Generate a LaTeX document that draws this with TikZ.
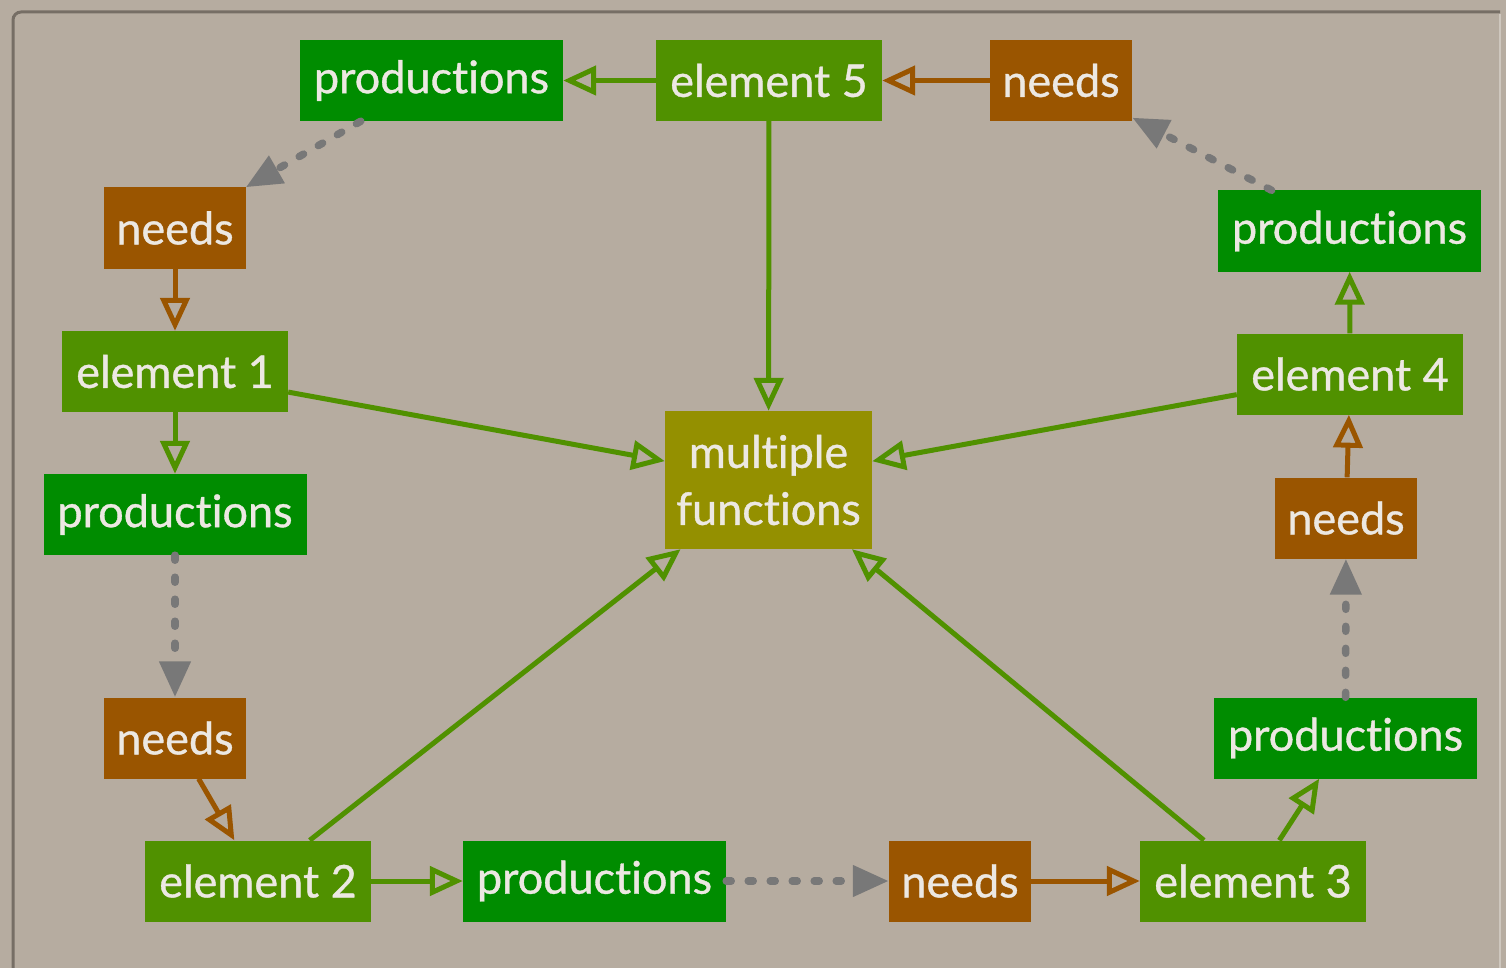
\documentclass[tikz,border=0pt]{standalone}
\usepackage{fontspec}
\setmainfont{Lato}
\newfontfamily\medfont{Lato}[FakeBold=0.8, Ligatures=NoCommon]
\usetikzlibrary{arrows.meta}
\definecolor{bgc}{RGB}{182,172,160}
\definecolor{framec}{RGB}{118,110,101}
\definecolor{framelt}{RGB}{206,199,190}
\definecolor{prodc}{RGB}{0,140,0}
\definecolor{elemc}{RGB}{80,145,0}
\definecolor{needc}{RGB}{154,85,0}
\definecolor{mfc}{RGB}{148,144,0}
\definecolor{txtc}{RGB}{236,232,226}
\definecolor{grayc}{RGB}{120,120,120}
\tikzset{
  box/.style={inner sep=0pt, text=txtc, font=\medfont\fontsize{45}{57}\selectfont, minimum height=81pt},
  prodbox/.style={box, fill=prodc, minimum width=263pt},
  elembox/.style={box, fill=elemc, minimum width=226pt},
  needbox/.style={box, fill=needc, minimum width=142pt},
  mfbox/.style={box, fill=mfc, minimum width=207pt, minimum height=138pt, align=center},
  greenarr/.style={draw=elemc, line width=5pt, -{Triangle[open, length=33pt, width=29pt]}},
  brownarr/.style={draw=needc, line width=5pt, -{Triangle[open, length=33pt, width=29pt]}},
  grayarr/.style={draw=grayc, line width=7.5pt, line cap=round, dash pattern=on 5pt off 17pt, -{Triangle[length=36pt, width=30pt]}},
}
\begin{document}
\begin{tikzpicture}[x=1pt, y=-1pt]
\useasboundingbox (0,0) rectangle (1506,968);
\fill[bgc] (0,0) rectangle (1506,968);
\draw[framelt, line width=2pt] (1500,14) -- (1500,968);
\draw[framec, line width=3pt, rounded corners=8pt] (13,975) -- (13,12) -- (1500,12);

% nodes
\node[prodbox] (p5) at (431.5,80.5) {productions};
\node[elembox] (e5) at (769,80.5) {element 5};
\node[needbox] (n5) at (1061,80.5) {needs};
\node[needbox] (n1) at (175,228) {needs};
\node[elembox] (e1) at (175,371.5) {element 1};
\node[prodbox] (p1) at (175,514.5) {productions};
\node[needbox] (n2) at (175,738) {needs};
\node[elembox] (e2) at (258,881) {element 2};
\node[prodbox] (p2) at (594.5,881) {productions};
\node[needbox] (n3) at (960,881) {needs};
\node[elembox] (e3) at (1253,881) {element 3};
\node[prodbox] (p3) at (1345.5,738) {productions};
\node[needbox] (n4) at (1346,518) {needs};
\node[elembox] (e4) at (1350,374) {element 4};
\node[prodbox] (p4) at (1349.5,231) {productions};
\node[mfbox] (mf) at (768.5,480) {multiple\\functions};

% cycle connectors
\draw[greenarr] (e5) -- (p5);
\draw[brownarr] (n5) -- (e5);
\draw[grayarr] (p5) -- (n1);
\draw[brownarr] (n1) -- (e1);
\draw[greenarr] (e1) -- (p1);
\draw[grayarr] (p1) -- (n2);
\draw[brownarr] (n2) -- (e2);
\draw[greenarr] (e2) -- (p2);
\draw[grayarr] (p2) -- (n3);
\draw[brownarr] (n3) -- (e3);
\draw[greenarr] (e3) -- (p3);
\draw[grayarr] (p3) -- (n4);
\draw[brownarr] (n4) -- (e4);
\draw[greenarr] (e4) -- (p4);
\draw[grayarr] (p4) -- (n5);

% to multiple functions
\draw[greenarr] (e1) -- (mf);
\draw[greenarr] (e2) -- (mf);
\draw[greenarr] (e3) -- (mf);
\draw[greenarr] (e4) -- (mf);
\draw[greenarr] (e5) -- (mf);
\end{tikzpicture}
\end{document}
